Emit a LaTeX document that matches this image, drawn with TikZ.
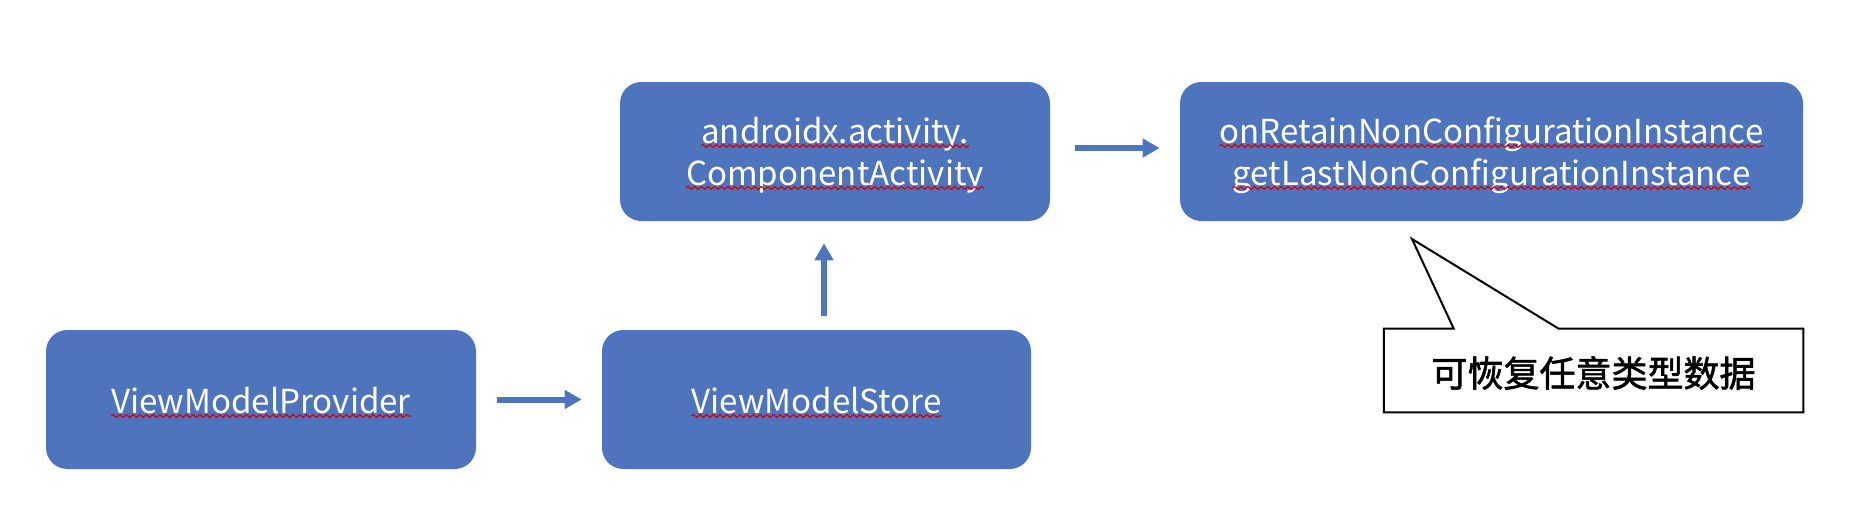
\documentclass[tikz,border=0pt]{standalone}
\usepackage{fontspec}
\setmainfont{Noto Sans CJK SC}
\newfontfamily\cjkfont[FakeBold=1.6]{Noto Sans CJK SC}
\usetikzlibrary{arrows.meta,decorations.pathmorphing}
\definecolor{boxblue}{HTML}{4E74BE}
\begin{document}
\begin{tikzpicture}[x=0.75pt,y=-0.75pt,
  box/.style={draw=none, fill=boxblue, rounded corners=16pt, minimum height=104.25pt, inner sep=0pt},
  lbl/.style={text=white, font=\fontsize{24.8}{30}\selectfont, inner sep=0pt, anchor=base},
  wave/.style={draw=red!85!black, line width=0.9pt, decorate, decoration={snake, amplitude=1.1pt, segment length=5pt}},
  arr/.style={draw=boxblue, line width=4.5pt, -{Triangle[length=12.75pt,width=13.5pt]}},
  note/.style={text=black, font=\cjkfont\fontsize{27}{30}\selectfont, inner sep=0pt},
]
\useasboundingbox (0,0) rectangle (1856,522);
% boxes
\node[box, minimum width=322.5pt] (A) at (261,399.5) {};
\node[box, minimum width=321.75pt] (B) at (816.5,399.5) {};
\node[box, minimum width=322.5pt] (C) at (835,151.5) {};
\node[box, minimum width=467.25pt] (D) at (1491.5,151.5) {};
% labels
\node[lbl] (tA) at (261,413) {ViewModelProvider};
\node[lbl] (tB) at (816.5,413) {ViewModelStore};
\node[lbl] (tC1) at (835,143) {androidx.activity.};
\node[lbl] (tC2) at (835,185) {ComponentActivity};
\node[lbl] (tD1) at (1491.5,143) {onRetainNonConfigurationInstance};
\node[lbl] (tD2) at (1491.5,185) {getLastNonConfigurationInstance};
% wavy underlines
\foreach \n in {tA,tB,tC1,tC2,tD1,tD2}{
  \draw[wave] ([yshift=-2.2pt]\n.base west) -- ([yshift=-2.2pt]\n.base east);
}
% arrows
\draw[arr, shorten <=15.75pt, shorten >=15pt] (A.east) -- (B.west);
\draw[arr, shorten <=10.5pt, shorten >=16.5pt] ([xshift=5.625pt]B.north) -- ([xshift=-8.25pt]C.south);
\draw[arr, shorten <=18.75pt, shorten >=15pt] ([yshift=2.6pt]C.east) -- ([yshift=2.6pt]D.west);
% callout
\node[minimum width=314.25pt, minimum height=62.25pt, inner sep=0pt] (E) at (1593.5,370.5) {};
\coordinate (tip) at (1412,239);
\draw[line width=1.5pt, fill=white, line join=miter]
  (E.north west) -- ([xshift=52.5pt]E.north west) -- (tip) -- ([xshift=131.25pt]E.north west)
  -- (E.north east) -- (E.south east) -- (E.south west) -- cycle;
\node[note] (tE) at (1593.5,373) {可恢复任意类型数据};
\end{tikzpicture}
\end{document}
